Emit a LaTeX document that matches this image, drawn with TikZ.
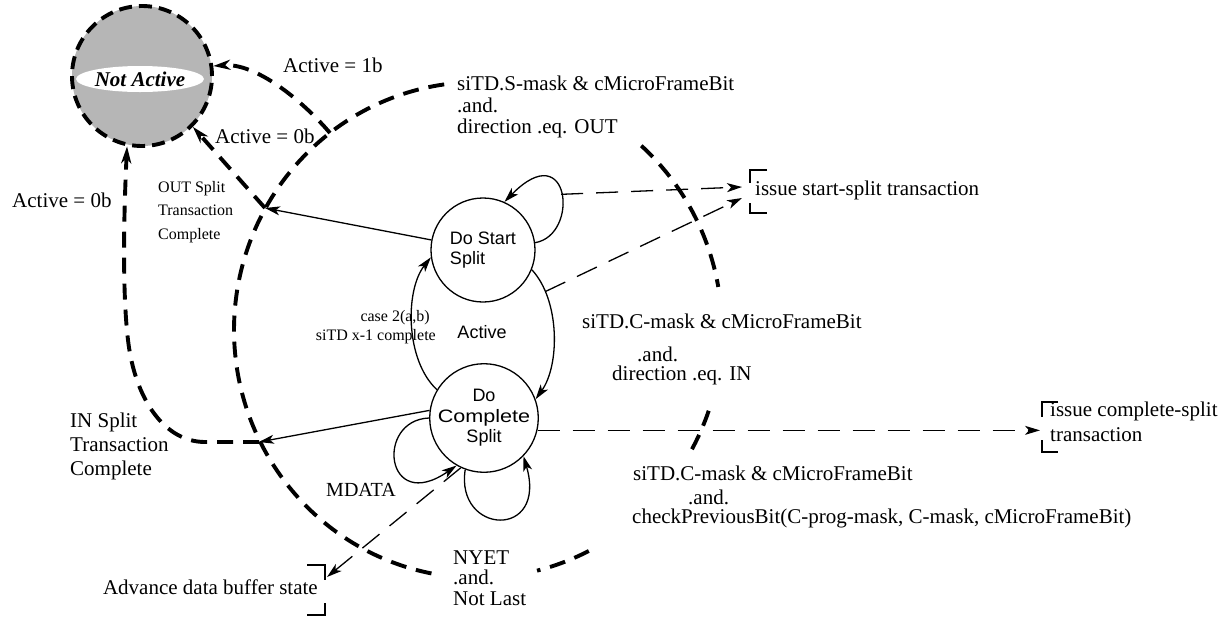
\documentclass[tikz,border=0pt]{standalone}
\usepackage{fontspec}
\setmainfont{Liberation Serif}
\setsansfont{Liberation Sans}
\usetikzlibrary{arrows.meta,shapes.geometric}
\definecolor{nagray}{RGB}{182,182,182}
\begin{document}
\begin{tikzpicture}[x=1pt,y=-1pt,
  thickdash/.style={line width=3.9pt, dash pattern=on 16pt off 10pt},
  thindash/.style={line width=1.3pt, dash pattern=on 22pt off 13pt},
  thinline/.style={line width=1.3pt},
  arrowtip/.style={-{Stealth[length=15pt,width=9pt,inset=4pt]}},
  bigtip/.style={-{Stealth[length=17pt,width=10pt,inset=5pt]}},
  statebox/.style={circle, draw, line width=1.3pt, minimum size=104pt, inner sep=0pt, font=\sffamily\fontsize{18}{20.5}\selectfont},
  lbl/.style={inner sep=0pt, font=\fontsize{21}{21.5}\selectfont},
  smalltext/.style={inner sep=0pt, font=\fontsize{16}{23.5}\selectfont},
  bracketline/.style={line width=2.5pt}
]
\useasboundingbox (0,0) rectangle (1223,619);

% Not Active state
\node[circle, minimum size=140pt, inner sep=0pt, fill=nagray, draw, thickdash, dash pattern=on 13pt off 7pt] (na) at (142,76) {};
\node[ellipse, fill=white, minimum width=106pt, minimum height=26pt, inner sep=0pt,
      font=\bfseries\itshape\fontsize{21}{21}\selectfont] (nal) at (140,79) {Not Active};

% Active super-state boundary (visible parts)
\draw[thickdash] plot[domain=101:264, samples=140] ({478+244*cos(\x)},{330+248*sin(\x)});
\draw[thickdash] plot[domain=63:76, samples=20] ({478+244*cos(\x)},{330+248*sin(\x)});
\draw[thickdash] plot[domain=19:31, samples=20] ({478+244*cos(\x)},{330+248*sin(\x)});
\draw[thickdash] plot[domain=-48:-10, samples=40] ({478+244*cos(\x)},{330+248*sin(\x)});

% states
\node[statebox, align=left] (ss) at (483,250) {Do Start\\Split};
\node[statebox, align=center] (cs) at (484,418) {Do\\\scalebox{1.2}[1]{Complete}\\Split};
\node[inner sep=0pt, font=\sffamily\fontsize{18}{20}\selectfont] (act) at (482,332) {Active};

% junction points on the boundary
\coordinate (outj) at (265,208);
\coordinate (inj) at (259,442);
\coordinate (onj) at (330,133);
\coordinate (iss1) at (742,187);
\coordinate (iss2) at (742,198);
\coordinate (ics) at (1040,430);
\coordinate (adv) at (327,577);

% thick dashed transitions to Not Active
\draw[thickdash, bigtip] (onj) .. controls (300,98) and (255,63) .. (na.8);
\draw[thickdash, bigtip] (outj) -- (na.-45);
\draw[thickdash, bigtip] (inj) -- (205,442) .. controls (165,442) and (135,400) .. (128,340)
      .. controls (122,290) and (124,210) .. (na.258);

% thin transitions
\draw[thinline, arrowtip] (ss.169) -- (outj);
\draw[thinline, arrowtip] (cs.172) -- (inj);
\draw[thinline, arrowtip] (ss.-22) .. controls (560,300) and (560,365) .. coordinate[pos=0.2] (sa) (cs.20);
\draw[thinline, arrowtip] (cs.149) .. controls (405,360) and (405,290) .. (ss.188);
\draw[thinline, arrowtip] (ss.8) .. controls (580,235) and (570,135) .. coordinate[pos=0.5] (sl) (ss.66);
\draw[thinline, arrowtip] (cs.180) .. controls (375,420) and (385,515) .. (cs.240);
\draw[thinline, arrowtip] (cs.250) .. controls (455,535) and (548,540) .. (cs.-44);

% thin dashed actions
\draw[thindash, arrowtip] (sl) -- (iss1);
\draw[thindash, arrowtip] (sa) -- (iss2);
\draw[thindash, arrowtip] (cs.-13) -- (cs.-13 -| ics);
\draw[thindash, arrowtip] (cs.245) -- (adv);

% brackets
\draw[bracketline] (767,170) -- (750,170) -- (750,183);
\draw[bracketline] (750,203) -- (750,213) -- (767,213);
\draw[bracketline] (1058,402) -- (1042,402) -- (1042,417);
\draw[bracketline] (1042,440) -- (1042,452) -- (1058,452);
\draw[bracketline] (307,565) -- (325,565) -- (325,580);
\draw[bracketline] (325,603) -- (325,615) -- (307,615);

% labels
\node[lbl, anchor=west] (t1) at (283,65) {Active = 1b};
\node[lbl, anchor=west] (t2) at (215,136) {Active = 0b};
\node[lbl, anchor=west] (t3) at (12,200) {Active = 0b};
\node[smalltext, anchor=west, align=left] (t4) at (158,212) {OUT Split\\Transaction\\Complete};
\node[lbl, anchor=west, align=left] (t5) at (457,107) {siTD.S-mask \& cMicroFrameBit\\.and.\\direction .eq. OUT};
\node[lbl, anchor=west] (t6a) at (582,321) {siTD.C-mask \& cMicroFrameBit};
\node[lbl, anchor=west] (t6b) at (637,354) {.and.};
\node[lbl, anchor=west] (t6c) at (612,375) {direction .eq. IN};
\node[lbl, anchor=west] (t7a) at (633,473) {siTD.C-mask \& cMicroFrameBit};
\node[lbl, anchor=west] (t7b) at (688,497) {.and.};
\node[lbl, anchor=west] (t7c) at (632,518) {checkPreviousBit(C-prog-mask, C-mask, cMicroFrameBit)};
\node[lbl, anchor=west] (t8) at (755,190) {issue start-split transaction};
\node[lbl, anchor=west, align=left, font=\fontsize{21}{25}\selectfont] (t9) at (1050,422) {issue complete-split\\transaction};
\node[lbl, anchor=east] (t10) at (318,587) {Advance data buffer state};
\node[lbl, anchor=west, align=left, font=\fontsize{21}{24}\selectfont] (t11) at (70,446) {IN Split\\Transaction\\Complete};
\node[lbl, anchor=west, align=left, font=\fontsize{21}{20.5}\selectfont] (t12) at (453,578) {NYET\\.and.\\Not Last};
\node[smalltext, anchor=east, font=\fontsize{16}{19}\selectfont] (t13a) at (430,318) {case 2(a,b)};
\node[smalltext, anchor=east, font=\fontsize{16}{19}\selectfont] (t13b) at (436,337) {siTD x-1 complete};
\node[lbl, font=\fontsize{20}{20}\selectfont] (t14) at (361,490) {MDATA};
\end{tikzpicture}
\end{document}
